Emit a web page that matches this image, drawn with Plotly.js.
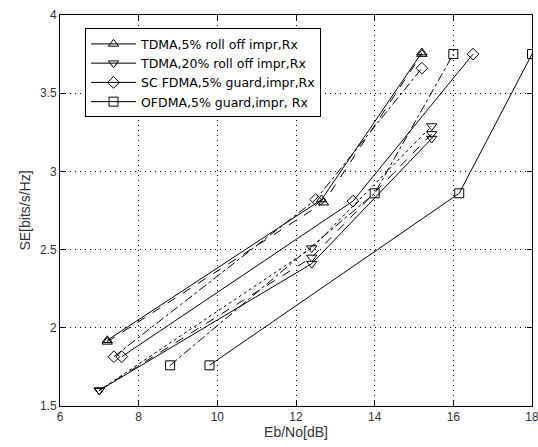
<!DOCTYPE html>
<html><head><meta charset="utf-8">
<script src="https://cdn.plot.ly/plotly-3.0.1.min.js"></script>
<style>html,body{margin:0;padding:0;background:#fff}#chart{width:538px;height:447px}</style>
</head><body><div id="chart"></div>
<script>
// Data
const seriesNames = ['TDMA,5% roll off impr,Rx','TDMA,20% roll off impr,Rx','SC FDMA,5% guard,impr,Rx','OFDMA,5% guard,impr, Rx'];
// TDMA 5% roll off
const tdma5X = [7.2, 12.65, 15.2];
const tdma5Y = [1.92, 2.82, 3.76];
const tdma5bX = [7.2, 12.7, 15.2];
const tdma5bY = [1.91, 2.80, 3.75];
// TDMA 20% roll off
const tdma20X = [7.0, 12.4, 15.45];
const tdma20Y = [1.6, 2.41, 3.21];
const tdma20bX = [7.0, 12.4, 15.45];
const tdma20bY = [1.6, 2.45, 3.24];
const tdma20cX = [7.0, 12.4, 15.45];
const tdma20cY = [1.6, 2.51, 3.29];
// SC FDMA
const scX = [7.57, 13.45, 16.5];
const scY = [1.815, 2.81, 3.75];
const scbX = [7.37, 12.5, 15.2];
const scbY = [1.815, 2.82, 3.66];
// OFDMA
const ofX = [9.8, 16.15, 18.0];
const ofY = [1.76, 2.86, 3.75];
const ofbX = [8.8, 14.0, 16.0];
const ofbY = [1.76, 2.86, 3.75];

const xTicks = [6, 8, 10, 12, 14, 16, 18];
const yTicks = [1.5, 2, 2.5, 3, 3.5, 4];

function tr(x, y, sym, dash, name, show) {
  return {
    x: x, y: y, type: 'scatter', mode: 'lines+markers',
    name: name || '', showlegend: !!show,
    line: {color: '#000', width: 1, dash: dash},
    marker: {symbol: sym, size: 9, color: '#000', line: {color: '#000', width: 1}}
  };
}

const data = [
  tr(tdma5X, tdma5Y, 'triangle-up-open', 'solid', seriesNames[0], true),
  tr(tdma20X, tdma20Y, 'triangle-down-open', 'solid', seriesNames[1], true),
  tr(scX, scY, 'diamond-open', 'solid', seriesNames[2], true),
  tr(ofX, ofY, 'square-open', 'solid', seriesNames[3], true),
  tr(tdma5bX, tdma5bY, 'triangle-up-open', 'dash'),
  tr(tdma20bX, tdma20bY, 'triangle-down-open', 'dash'),
  tr(tdma20cX, tdma20cY, 'triangle-down-open', 'dot'),
  tr(scbX, scbY, 'diamond-open', 'dashdot'),
  tr(ofbX, ofbY, 'square-open', 'dashdot')
];

const tickFont = {family: 'Liberation Sans, Arial, sans-serif', size: 12, color: '#333'};
const titleFont = {family: 'Liberation Sans, Arial, sans-serif', size: 14, color: '#333'};
const axisCommon = {
  showline: true, linecolor: '#000', linewidth: 1, mirror: 'ticks',
  ticks: 'inside', ticklen: 5, tickcolor: '#000',
  showgrid: true, gridcolor: '#000', griddash: '1px,4px', gridwidth: 1,
  zeroline: false, tickfont: tickFont, ticklabeloverflow: 'allow'
};

const layout = {
  width: 538, height: 447,
  margin: {l: 60, r: 6, t: 15, b: 41},
  paper_bgcolor: '#fff', plot_bgcolor: '#fff',
  xaxis: Object.assign({}, axisCommon, {
    range: [6, 18], tickvals: xTicks, ticktext: xTicks.map(String),
    title: {text: 'Eb/No[dB]', standoff: 1, font: titleFont}
  }),
  yaxis: Object.assign({}, axisCommon, {
    range: [1.5, 4], tickvals: yTicks, ticktext: yTicks.map(String),
    title: {text: 'SE[bits/s/Hz]', standoff: 6, font: titleFont}
  }),
  legend: {
    x: 0.053, y: 0.966, xanchor: 'left', yanchor: 'top',
    bgcolor: '#fff', bordercolor: '#000', borderwidth: 1,
    font: {family: 'DejaVu Sans, sans-serif', size: 12.5, color: '#000'},
    tracegroupgap: 0, itemwidth: 45
  },
  showlegend: true
};

Plotly.newPlot('chart', data, layout, {displayModeBar: false, staticPlot: true});
</script>
</body></html>
